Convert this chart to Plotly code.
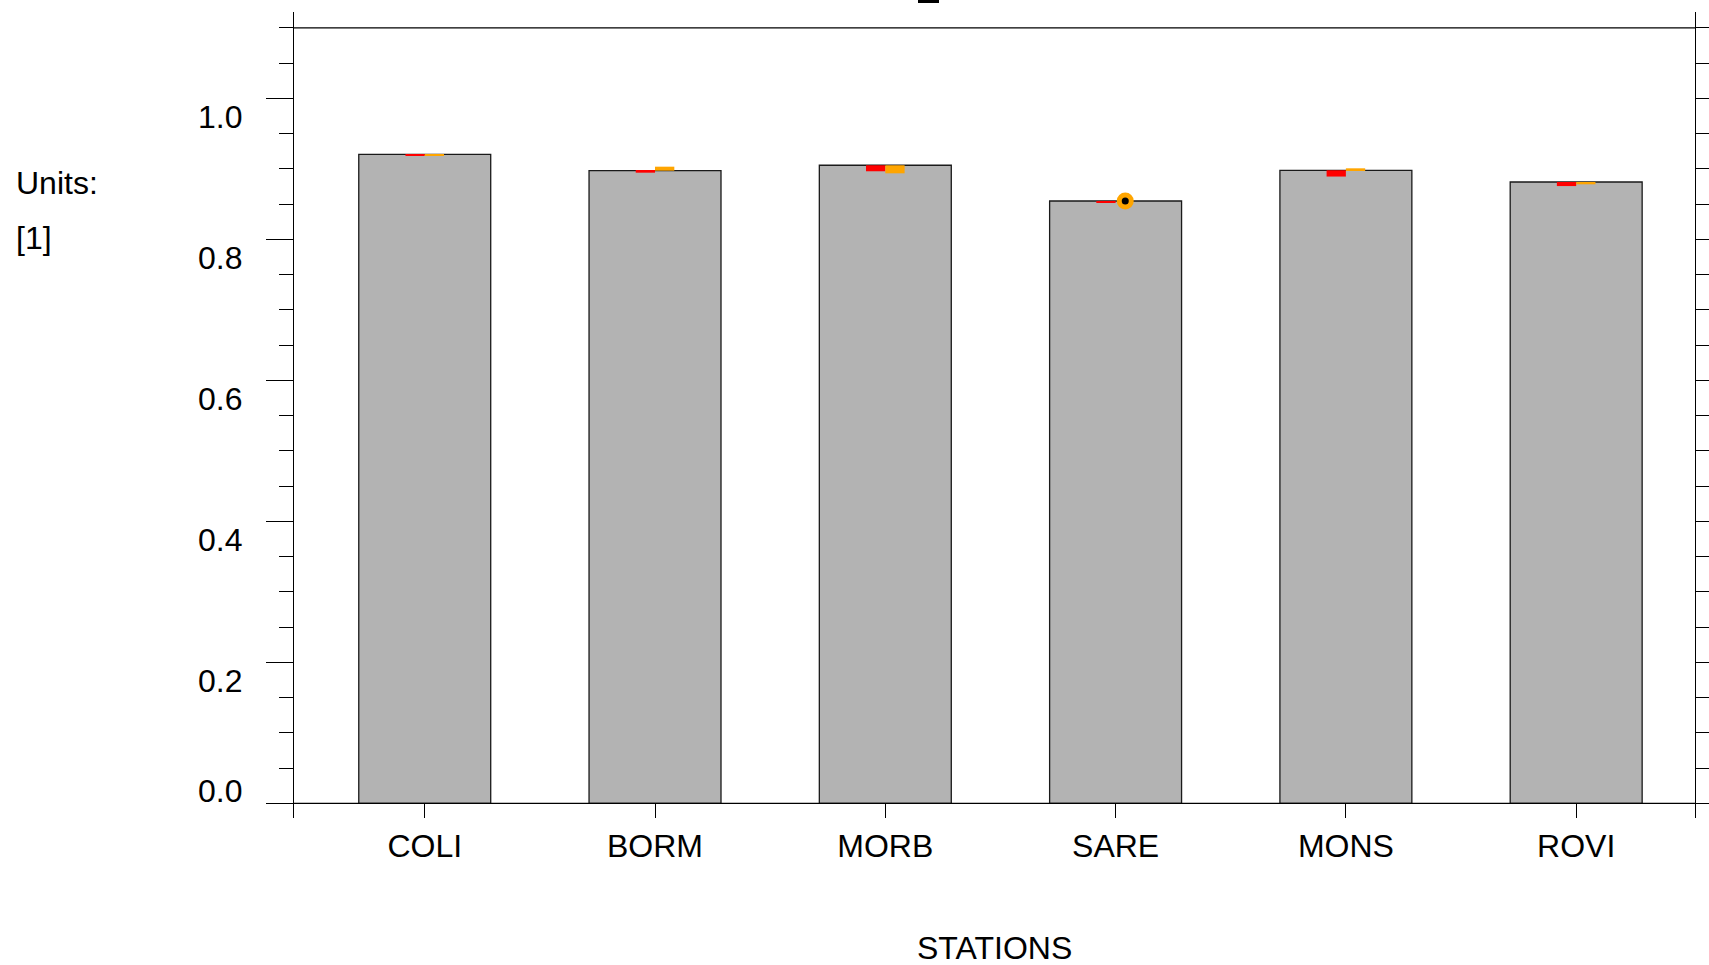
import plotly.graph_objects as go

# Station scores
stations = ["COLI", "BORM", "MORB", "SARE", "MONS", "ROVI"]
score = [0.9206, 0.8973, 0.9050, 0.8543, 0.8979, 0.8813]
# Comparison values drawn as small coloured strips next to each bar top
score_red = [0.9185, 0.8945, 0.8965, 0.8520, 0.8890, 0.8755]
score_orange = [0.9190, 0.9030, 0.8936, 0.8543, 0.9007, 0.8780]
# Station where the orange value is shown as a point
point_station = ["SARE"]
point_value = [0.8543]

y_ticks = [0.0, 0.2, 0.4, 0.6, 0.8, 1.0]
y_tick_text = ["0.0", "0.2", "0.4", "0.6", "0.8", "1.0"]

FONT = "Liberation Sans, Arial, sans-serif"
W, H = 1709, 965
ML, MR, MT, MB = 294, 14, 12, 147
plot_h = H - MT - MB
plot_w = W - ML - MR
px_per_unit = 705.0
zero_px = 803.3
y_lo = -((H - MB) - zero_px) / px_per_unit
y_hi = (zero_px - MT) / px_per_unit
X_RANGE = [-0.5677, 5.516]
STRIP_W = 0.0838

fig = go.Figure()

fig.add_trace(go.Bar(
    x=stations, y=score, width=0.573,
    marker=dict(color="#B3B3B3", line=dict(color="#1a1a1a", width=1.3)),
    showlegend=False,
))

fig.add_trace(go.Bar(
    x=stations, y=[r - s for r, s in zip(score_red, score)], base=score,
    offset=-STRIP_W, width=STRIP_W,
    marker=dict(color="#FF0000", line=dict(width=0)),
    showlegend=False,
))

orange_idx = [i for i, s in enumerate(stations) if s not in point_station]
fig.add_trace(go.Bar(
    x=[stations[i] for i in orange_idx],
    y=[score_orange[i] - score[i] for i in orange_idx],
    base=[score[i] for i in orange_idx],
    offset=0.0, width=STRIP_W,
    marker=dict(color="#FFA500", line=dict(width=0)),
    showlegend=False,
))

# orange point with a black centre, placed in the middle of the orange strip slot
point_x = [stations.index(s) + STRIP_W / 2 for s in point_station]
fig.add_trace(go.Scatter(
    x=point_x, y=point_value, mode="markers", xaxis="x2",
    marker=dict(color="#FFA500", size=17, line=dict(width=0)),
    showlegend=False,
))
fig.add_trace(go.Scatter(
    x=point_x, y=point_value, mode="markers", xaxis="x2",
    marker=dict(color="black", size=7, line=dict(width=0)),
    showlegend=False,
))

fig.update_layout(
    width=W, height=H,
    margin=dict(l=ML, r=MR, t=MT, b=MB, pad=0, autoexpand=False),
    paper_bgcolor="white", plot_bgcolor="white",
    barmode="overlay",
    font=dict(family=FONT, size=32, color="black"),
    xaxis=dict(
        type="category", range=X_RANGE,
        showline=False, showgrid=False, zeroline=False,
        ticks="inside", ticklen=15, tickwidth=1.3, tickcolor="black",
        tickfont=dict(family=FONT, size=32, color="black"),
        ticklabelstandoff=6, automargin=False,
    ),
    xaxis2=dict(
        type="linear", range=X_RANGE, overlaying="x", visible=False,
        automargin=False,
    ),
    yaxis=dict(
        range=[y_lo, y_hi], automargin=False,
        showline=True, linecolor="black", linewidth=1.3, mirror="ticks",
        showgrid=False, zeroline=False,
        tickmode="linear", tick0=0, dtick=0.2,
        ticks="outside", ticklen=27, tickwidth=1.3, tickcolor="black",
        showticklabels=False,
        minor=dict(dtick=0.05, tick0=0, ticks="outside", ticklen=14,
                   tickwidth=1.3, tickcolor="black", showgrid=False),
    ),
)

# baseline at zero and reference line at 1.1
fig.add_shape(type="line", xref="paper", yref="y", x0=0, x1=1, y0=0, y1=0,
              line=dict(color="black", width=1.3))
fig.add_shape(type="line", xref="paper", yref="y", x0=0, x1=1, y0=1.1, y1=1.1,
              line=dict(color="black", width=1.3))

# fragment of the heading running off the top edge
fig.add_shape(type="rect", xref="paper", yref="paper",
              x0=(918 - ML) / plot_w, x1=(939 - ML) / plot_w,
              y0=1 + (MT - 3) / plot_h, y1=1 + MT / plot_h + 0.01,
              fillcolor="black", line=dict(width=0))

# y tick labels
lab_x = (243.5 - ML) / plot_w
for v, t in zip(y_ticks, y_tick_text):
    fig.add_annotation(x=lab_x, xref="paper", xanchor="right",
                       y=v, yref="y", yanchor="middle",
                       yshift=12.5 if v == 0 else -18.5,
                       text=t, showarrow=False,
                       font=dict(family=FONT, size=32, color="black"))

fig.add_annotation(x=(14 - ML) / plot_w, xref="paper", xanchor="left",
                   y=((H - MB) - 183) / plot_h, yref="paper", yanchor="middle",
                   text="Units:", showarrow=False,
                   font=dict(family=FONT, size=32, color="black"))
fig.add_annotation(x=(14 - ML) / plot_w, xref="paper", xanchor="left",
                   y=((H - MB) - 238) / plot_h, yref="paper", yanchor="middle",
                   text="[1]", showarrow=False,
                   font=dict(family=FONT, size=32, color="black"))
fig.add_annotation(x=0.5, xref="paper", xanchor="center",
                   y=((H - MB) - 948) / plot_h, yref="paper", yanchor="middle",
                   text="STATIONS", showarrow=False,
                   font=dict(family=FONT, size=32, color="black"))

fig.write_html("out.html")
